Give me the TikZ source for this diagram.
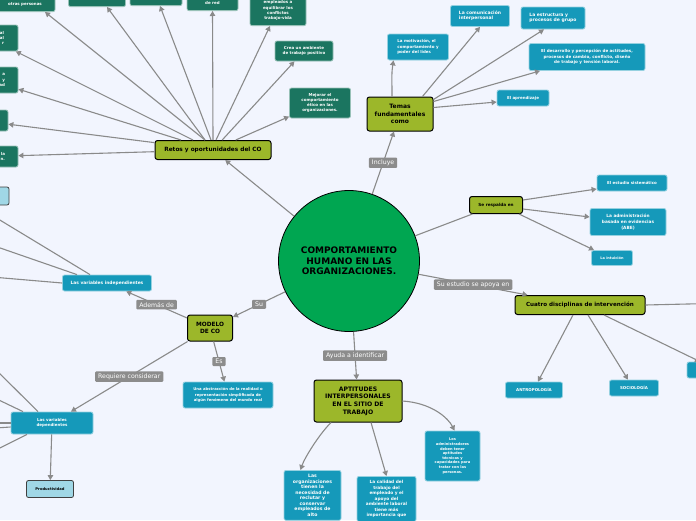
\documentclass[tikz,border=0pt]{standalone}
\usepackage{fontspec}
\setmainfont{DejaVu Sans}
\usetikzlibrary{arrows.meta}
\definecolor{paper}{RGB}{242,245,254}
\definecolor{hubgreen}{RGB}{0,166,81}
\definecolor{olive}{RGB}{156,183,42}
\definecolor{pine}{RGB}{27,117,96}
\definecolor{ocean}{RGB}{21,153,186}
\definecolor{sky}{RGB}{160,215,230}
\definecolor{taggray}{RGB}{140,140,140}
\definecolor{linegray}{RGB}{138,138,138}

\begin{document}
\begin{tikzpicture}[
  x=1pt, y=-1pt,
  hub/.style={circle, draw=black, line width=0.8pt, fill=hubgreen, minimum size=141pt, inner sep=0pt, align=center, font=\fontsize{9}{10.7}\selectfont\bfseries},
  topic/.style={draw=black, line width=1pt, fill=olive, rounded corners=2.5pt, align=center, inner sep=1pt},
  leaf/.style={draw=pine!45!white, line width=0.8pt, fill=pine, text=white, rounded corners=2pt, align=center, inner sep=1pt, font=\fontsize{4}{5.2}\selectfont\bfseries},
  info/.style={leaf, draw=ocean!45!white, fill=ocean},
  pale/.style={draw=black!75, line width=0.8pt, fill=sky, rounded corners=2pt, align=center, font=\fontsize{3.7}{5}\selectfont\bfseries},
  tag/.style={fill=taggray, text=white, rounded corners=1pt, inner xsep=3pt, inner ysep=2.2pt, font=\fontsize{6.2}{6.5}\selectfont},
  link/.style={draw=linegray, line width=1.1pt, -{Triangle[length=5pt, width=5.5pt]}},
  bare/.style={draw=linegray, line width=1.1pt}
]
\fill[paper] (0,0) rectangle (696,520);
\useasboundingbox (0,0) rectangle (696,520);

\node[hub] (hub) at (349,261) {COMPORTAMIENTO\\HUMANO EN LAS\\ORGANIZACIONES.};

\node[topic, minimum width=116pt, minimum height=19pt, font=\fontsize{5.8}{6.5}\selectfont\bfseries] (retos) at (213,150) {Retos y oportunidades del CO};
\node[topic, minimum width=66pt, minimum height=34pt, font=\fontsize{6}{7.3}\selectfont\bfseries] (temas) at (400,114) {Temas\\fundamentales\\como};
\node[topic, minimum width=53pt, minimum height=17pt, font=\fontsize{4.2}{5}\selectfont\bfseries] (resp) at (496,205) {Se respalda en};
\node[topic, minimum width=130pt, minimum height=19pt, font=\fontsize{5.6}{6.5}\selectfont\bfseries] (cuatro) at (580,305) {Cuatro disciplinas de intervención};
\node[topic, minimum width=45pt, minimum height=26pt, font=\fontsize{5.8}{7.3}\selectfont\bfseries] (modelo) at (210,328) {MODELO\\DE CO};
\node[topic, minimum width=88pt, minimum height=42pt, font=\fontsize{6.1}{7.7}\selectfont\bfseries] (apt) at (358,401) {APTITUDES\\INTERPERSONALES\\EN EL SITIO DE\\TRABAJO};

\node[leaf, minimum width=60pt, minimum height=15pt, anchor=south] (tp1) at (25,12) {otras personas};
\node[leaf, minimum width=57pt, minimum height=15pt, anchor=south] (tp2) at (97,7) {};
\node[leaf, minimum width=52pt, minimum height=15pt, anchor=south] (tp3) at (156,6) {};
\node[leaf, minimum width=51pt, minimum height=15pt, anchor=south] (tp4) at (212.5,11) {de red};
\node[leaf, minimum width=56pt, minimum height=30pt, anchor=south] (tp5) at (278,26) {empleados a\\equilibrar los\\conflictos\\trabajo-vida};
\node[leaf, minimum width=58pt, minimum height=26pt, text width=30pt, inner xsep=14pt, align=right] (lp1) at (-11,38) {al\\al\\r};
\node[leaf, minimum width=58pt, minimum height=26pt, text width=32pt, inner xsep=13pt, align=right] (lp2) at (-11,80) {a\\y\\dad};
\node[leaf, minimum width=58pt, minimum height=21pt] (lp3) at (-21,120.5) {};
\node[leaf, minimum width=58pt, minimum height=21pt, text width=32pt, inner xsep=13pt, align=right] (lp4) at (-11,156.5) {n la\\n.};
\node[leaf, minimum width=58pt, minimum height=20pt] (crea) at (304,51) {Crea un ambiente\\de trabajo positivo};
\node[leaf, minimum width=61pt, minimum height=30pt] (mejora) at (320,103) {Mejorar el\\comportamiento\\ético en las\\organizaciones.};
\node[pale, minimum width=30pt, minimum height=18pt] (pbox) at (-6,196) {};

\node[info, minimum width=61pt, minimum height=26pt, align=left] (moti) at (418,47) {La motivación, el\\comportamiento y\\poder del líder.};
\node[info, minimum width=59pt, minimum height=21pt, align=left, font=\fontsize{4.5}{5.3}\selectfont\bfseries] (comu) at (480,16) {La comunicación\\interpersonal};
\node[info, minimum width=64pt, minimum height=22pt, align=left, font=\fontsize{4.5}{5.3}\selectfont\bfseries] (estru) at (553,18) {La estructura y\\procesos de grupo};
\node[info, minimum width=116pt, minimum height=27pt, font=\fontsize{4.1}{5.6}\selectfont\bfseries] (desa) at (587,57) {El desarrollo y percepción de actitudes,\\procesos de cambio, conflicto, diseño\\de trabajo y tensión laboral.};
\node[info, minimum width=52pt, minimum height=16pt] (apre) at (523,98) {El aprendizaje};
\node[info, minimum width=70pt, minimum height=16pt] (siste) at (632,183) {El estudio sistemático};
\node[info, minimum width=76pt, minimum height=27pt, font=\fontsize{4.3}{5.8}\selectfont\bfseries] (abe) at (628,222) {La administración\\basada en evidencias\\(ABE)};
\node[info, minimum width=41pt, minimum height=15pt, font=\fontsize{3.5}{5}\selectfont\bfseries] (intu) at (612,258) {La intuición};
\node[info, minimum width=57pt, minimum height=16pt] (antro) at (534,390) {ANTROPOLOGÍA};
\node[info, minimum width=49pt, minimum height=16pt] (socio) at (634,388) {SOCIOLOGÍA};
\node[info, minimum width=54pt, minimum height=16pt] (rbox) at (714,370) {};
\node[info, minimum width=89pt, minimum height=16pt, font=\fontsize{4.4}{5}\selectfont\bfseries] (indep) at (107,283) {Las variables independientes};
\node[info, minimum width=82pt, minimum height=22pt] (dep) at (52,423) {Las variables\\dependientes};
\node[pale, minimum width=47pt, minimum height=17pt] (prod) at (50,489) {Productividad};
\node[info, minimum width=90pt, minimum height=26pt, font=\fontsize{3.8}{5.2}\selectfont\bfseries] (abstr) at (228,395) {Una abstracción de la realidad o\\representación simplificada de\\algún fenómeno del mundo real};
\node[info, minimum width=57pt, inner ysep=4pt, anchor=north, font=\fontsize{4.6}{5.5}\selectfont\bfseries] (orgs) at (312.5,470) {Las\\organizaciones\\tienen la\\necesidad de\\reclutar y\\conservar\\empleados de\\alto};
\node[info, minimum width=59pt, inner ysep=4pt, anchor=north, font=\fontsize{4.3}{5.5}\selectfont\bfseries] (cal) at (386.5,476) {La calidad del\\trabajo del\\empleado y el\\apoyo del\\ambiente laboral\\tiene más\\importancia que};
\node[info, minimum width=55pt, minimum height=50pt, font=\fontsize{3.6}{4.6}\selectfont\bfseries] (admin) at (452.5,456) {Los\\administradores\\deben tener\\aptitudes\\técnicas y\\capacidades para\\tratar con las\\personas.};

\coordinate (i1) at (-20,208);
\coordinate (i2) at (-20,241);
\coordinate (i3) at (-20,276);
\coordinate (d1) at (-20,354);
\coordinate (d2) at (-20,391);
\coordinate (d3) at (-20,423);
\coordinate (d4) at (-20,429);
\coordinate (d5) at (-20,458);
\coordinate (c1) at (730,303);

\draw[link] (hub) -- (retos);
\draw[link] (hub) -- node[tag]{Incluye} (temas);
\draw[bare] (hub) -- (resp);
\draw[link] (hub) -- node[tag]{Su estudio se apoya en} (cuatro);
\draw[link] (hub) -- node[tag]{Su} (modelo);
\draw[link] (hub) -- node[tag]{Ayuda a identificar} (apt);
\draw[link] (modelo) -- node[tag]{Es} (abstr);
\draw[link] (modelo) -- node[tag]{Además de} (indep);
\draw[link] (modelo) -- node[tag]{Requiere considerar} (dep);

\draw[link] ([xshift=-8pt]retos.north) -- ([xshift=20pt]tp1.south);
\draw[link] ([xshift=-8pt]retos.north) -- ([xshift=10pt]tp2.south);
\draw[link] ([xshift=-2pt]retos.north) -- ([xshift=4pt]tp3.south);
\draw[link] (retos.north) -- (tp4.south);
\draw[link] ([xshift=3pt]retos.north) -- ([xshift=-8pt]tp5.south);
\draw[link] (retos) -- (crea);
\draw[link] (retos) -- (mejora);
\draw[link] (retos) -- (lp1);
\draw[link] (retos) -- (lp2);
\draw[link] (retos) -- (lp3);
\draw[link] (retos) -- (lp4);

\draw[link] ([xshift=-8pt]temas.north) .. controls +(0,-18) and +(-2,12) .. ([xshift=-24.5pt]moti.south);
\draw[link] ([xshift=-11pt]temas.north east) -- (comu.south);
\draw[link] ([yshift=-3pt]temas.north east) -- ([xshift=-9pt]estru.south);
\draw[link] ([yshift=-5pt]temas.north east) -- ([xshift=-47pt]desa.south);
\draw[link] ([yshift=-11pt]temas.north east) -- ([yshift=-4pt]apre.west);

\draw[link] ([yshift=5pt]resp.east) -- ([yshift=-6pt]siste.west);
\draw[link] ([yshift=-4pt]resp.east) -- ([yshift=5pt]abe.west);
\draw[link] ([xshift=-4pt]resp.south east) -- ([xshift=3pt]intu.north west);

\draw[link] ([xshift=-7pt]cuatro.south) -- ([xshift=4pt]antro.north);
\draw[link] ([xshift=8pt]cuatro.south) -- ([xshift=-6pt]socio.north);
\draw[link] ([xshift=24pt]cuatro.south) -- ([xshift=-14pt]rbox.north);
\draw[link] (cuatro.east) -- (c1);

\draw[link] ([xshift=-27pt]apt.south) .. controls +(-12,12) and +(4,-12) .. ([xshift=-12pt]orgs.north);
\draw[link] ([xshift=13pt]apt.south) -- (cal.north);
\draw[link] (apt.east) .. controls +(30,2) and +(-6,-12) .. ([xshift=2pt]admin.north);

\draw[link] ([xshift=-17pt]indep.north) -- (i1);
\draw[link] ([xshift=-30pt]indep.north) -- (i2);
\draw[link] (indep.west) -- (i3);
\draw[link] ([xshift=-14pt]dep.north) -- (d1);
\draw[link] ([xshift=-29pt]dep.north) -- (d2);
\draw[link] (dep.west) -- (d3);
\draw[link] ([yshift=-4pt]dep.west) -- (d4);
\draw[link] ([xshift=-25pt]dep.south) -- (d5);
\draw[link] (dep) -- (prod);
\end{tikzpicture}
\end{document}
